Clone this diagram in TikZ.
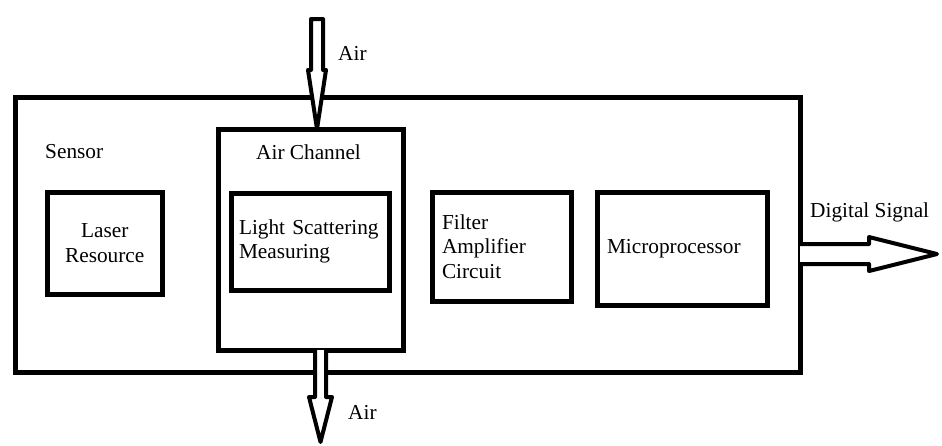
\documentclass[tikz,border=0pt]{standalone}
\usepackage{fontspec}
\setmainfont{Liberation Serif}
\tikzset{
  unitbox/.style={draw, line width=5pt, outer sep=0pt, inner sep=0pt, anchor=north west},
  lbl/.style={font=\fontsize{21.3}{24.5}\selectfont, inner sep=0pt},
  hollow/.style={draw, line width=4pt, line join=round, fill=white}
}

\begin{document}
\begin{tikzpicture}[x=1pt, y=-1pt]
\useasboundingbox (0,0) rectangle (942,445);

% Sensor housing
\node[unitbox, minimum width=785, minimum height=275] (sensor) at (15,97) {};
\node[lbl, anchor=base west] (sensor-lbl) at (45,158) {Sensor};

% Air channel with measuring cell
\node[unitbox, minimum width=185, minimum height=221] (chan) at (218,129) {};
\node[lbl, anchor=base west] (chan-lbl) at (256,159) {Air Channel};
\node[unitbox, lbl, minimum width=158, minimum height=97, text width=150, align=left] (light) at (231,193) {\hspace*{4pt}Light Scattering\\\hspace*{4pt}Measuring};

% Other units
\node[unitbox, lbl, minimum width=114.5, minimum height=101.5, text width=95, align=center] (laser) at (47.5,192.5) {Laser\\Resource};
\node[unitbox, lbl, minimum width=139, minimum height=109, text width=119, align=left] (filter) at (432,192) {Filter\\Amplifier\\Circuit};
\node[unitbox, lbl, minimum width=170, minimum height=113, text width=150, align=left] (micro) at (597,192) {Microprocessor};

% Air in
\draw[hollow] ([xshift=6.5]chan.north) -- ++(-9,-59) -- ++(3,0) -- ++(0,-51) -- ++(12,0) -- ++(0,51) -- ++(3,0) -- cycle;
\node[lbl, anchor=base west] (air-in) at (338,60) {Air};

% Air out
\draw[hollow] ([xshift=4.5]chan.south) -- ++(0,47) -- ++(-6,0) -- ++(11.5,45) -- ++(11.5,-45) -- ++(-6,0) -- ++(0,-47);
\node[lbl, anchor=base west] (air-out) at (348,419) {Air};

% Output
\draw[hollow] (sensor.east) ++(0,9.5) -- ++(69,0) -- ++(0,-7) -- ++(68,17) -- ++(-68,17) -- ++(0,-7) -- ++(-69,0);
\node[lbl, anchor=base west] (out-lbl) at (810,217) {Digital Signal};

\end{tikzpicture}
\end{document}
